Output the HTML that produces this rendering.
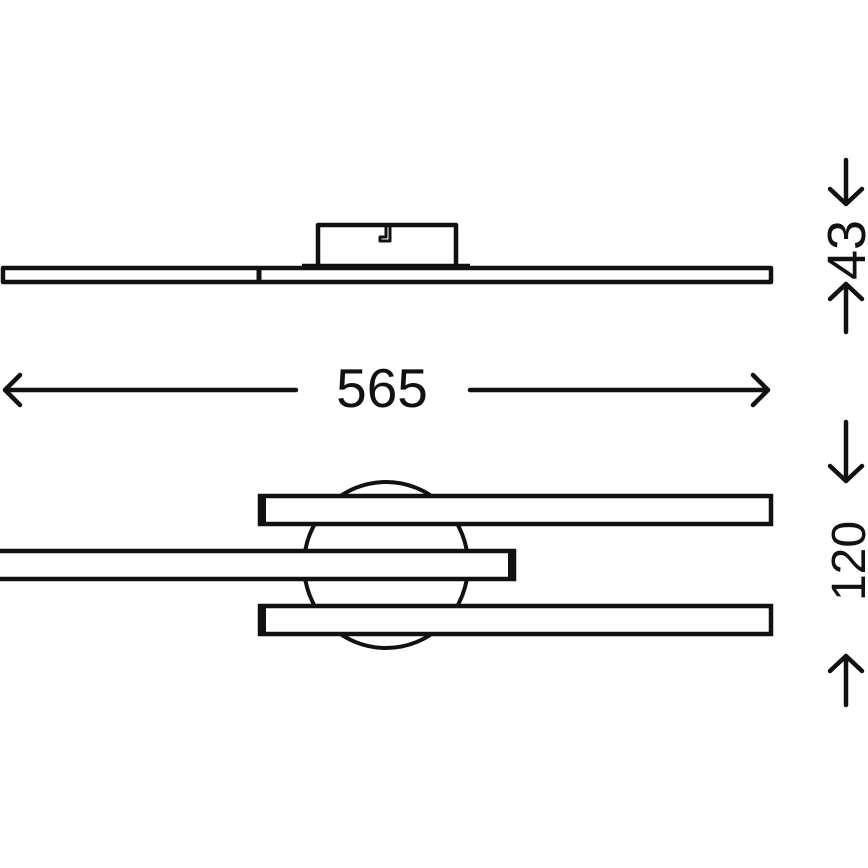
<!DOCTYPE html><html><head><style>body{margin:0;background:#fff}svg{display:block}</style></head><body>
<svg width="868" height="868" viewBox="0 0 868 868" xmlns="http://www.w3.org/2000/svg">
<g fill="none" stroke="#111" stroke-width="4.5" stroke-linejoin="round">
<rect x="318" y="225" width="138" height="42"/>
<path d="M386 227 v10 h-6 v4 h10 v-14" stroke-width="3"/>
<rect x="3" y="268" width="768" height="14"/>
<line x1="259" y1="268" x2="259" y2="282" stroke-width="5"/>
<line x1="302" y1="266" x2="470" y2="266"/>
<ellipse cx="386" cy="565" rx="82" ry="83" stroke-width="4"/>
</g>
<g fill="#fff" stroke="#111" stroke-width="4.5">
<rect x="260" y="496" width="511" height="28"/>
<rect x="-5" y="551" width="519" height="28"/>
<rect x="260" y="606" width="511" height="28"/>
</g>
<g fill="#111">
<rect x="258" y="494" width="8" height="32"/>
<rect x="508" y="549" width="8" height="32"/>
<rect x="258" y="604" width="8" height="32"/>
</g>
<g fill="none" stroke="#111" stroke-width="4.5" stroke-linecap="round" stroke-linejoin="round">
<path d="M5 390 H296 M20 375 L5 390 L20 405"/>
<path d="M470 390 H768 M753 375 L768 390 L753 405"/>
<path d="M846 160 V204 M830 189 L846 204 L862 189"/>
<path d="M846 284 V332 M830 299 L846 284 L862 299"/>
<path d="M846 422 V481 M830 466 L846 481 L862 466"/>
<path d="M846 656 V705 M830 671 L846 656 L862 671"/>
</g>
<g font-family="Liberation Sans, sans-serif" fill="#111" text-anchor="middle">
<text x="382" y="407" font-size="55">565</text>
<text transform="translate(865,250) rotate(-90)" font-size="54">43</text>
<text transform="translate(865,561) rotate(-90)" font-size="48">120</text>
</g>
</svg>
</body></html>
